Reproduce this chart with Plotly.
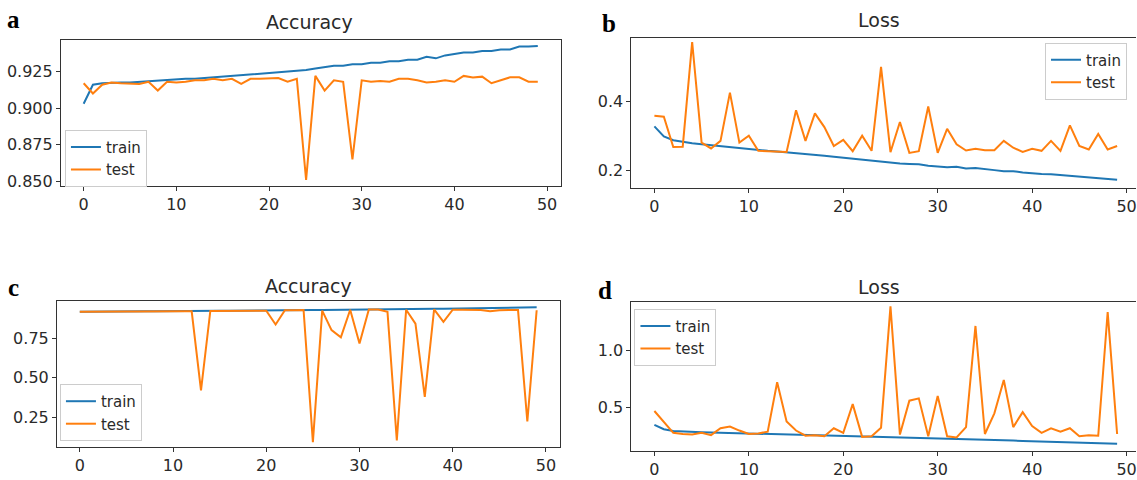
import plotly.graph_objects as go

W, H = 1137, 480

epochs = list(range(50))

acc_a_train = [0.903, 0.916, 0.917, 0.9175, 0.9175, 0.9175, 0.918, 0.9185, 0.919, 0.919,
               0.9195, 0.920, 0.920, 0.9205, 0.921, 0.9215, 0.922, 0.922, 0.923, 0.9235,
               0.924, 0.9245, 0.925, 0.9255, 0.926, 0.927, 0.928, 0.929, 0.929, 0.930,
               0.930, 0.931, 0.931, 0.932, 0.932, 0.933, 0.933, 0.935, 0.934, 0.936,
               0.937, 0.938, 0.938, 0.939, 0.939, 0.940, 0.940, 0.942, 0.942, 0.9425]
acc_a_test = [0.917, 0.910, 0.916, 0.9175, 0.917, 0.9165, 0.9165, 0.918, 0.912, 0.918,
              0.9175, 0.918, 0.919, 0.919, 0.920, 0.919, 0.920, 0.9165, 0.920, 0.920,
              0.920, 0.9205, 0.918, 0.920, 0.851, 0.922, 0.912, 0.919, 0.918, 0.865,
              0.919, 0.918, 0.9185, 0.918, 0.920, 0.920, 0.919, 0.9175, 0.918, 0.919,
              0.918, 0.922, 0.921, 0.9215, 0.917, 0.919, 0.921, 0.921, 0.918, 0.918]

loss_b_train = [0.327, 0.298, 0.287, 0.282, 0.278, 0.275, 0.272, 0.270, 0.266, 0.264,
                0.261, 0.258, 0.256, 0.254, 0.252, 0.249, 0.247, 0.245, 0.242, 0.239,
                0.236, 0.233, 0.230, 0.228, 0.225, 0.221, 0.219, 0.218, 0.217, 0.213,
                0.210, 0.208, 0.210, 0.205, 0.206, 0.202, 0.200, 0.197, 0.197, 0.193,
                0.190, 0.189, 0.188, 0.186, 0.183, 0.181, 0.180, 0.177, 0.175, 0.172]
loss_b_test = [0.358, 0.355, 0.267, 0.268, 0.572, 0.280, 0.263, 0.285, 0.425, 0.280,
               0.300, 0.256, 0.255, 0.255, 0.253, 0.374, 0.285, 0.365, 0.325, 0.270,
               0.288, 0.255, 0.300, 0.256, 0.500, 0.252, 0.340, 0.250, 0.255, 0.385,
               0.250, 0.320, 0.275, 0.257, 0.262, 0.258, 0.258, 0.285, 0.265, 0.253,
               0.262, 0.256, 0.285, 0.256, 0.330, 0.270, 0.260, 0.305, 0.260, 0.270]

acc_c_train = [0.915, 0.916, 0.917, 0.917, 0.917, 0.918, 0.918, 0.918, 0.918, 0.919,
               0.919, 0.919, 0.919, 0.920, 0.920, 0.921, 0.921, 0.922, 0.922, 0.923,
               0.923, 0.924, 0.924, 0.925, 0.925, 0.926, 0.926, 0.927, 0.927, 0.928,
               0.928, 0.929, 0.930, 0.930, 0.931, 0.932, 0.932, 0.933, 0.934, 0.934,
               0.935, 0.936, 0.937, 0.938, 0.939, 0.940, 0.941, 0.942, 0.943, 0.944]
acc_c_test = [0.916, 0.917, 0.917, 0.917, 0.917, 0.917, 0.917, 0.918, 0.918, 0.918,
              0.918, 0.918, 0.918, 0.420, 0.920, 0.921, 0.920, 0.922, 0.923, 0.923,
              0.922, 0.835, 0.925, 0.925, 0.926, 0.095, 0.922, 0.800, 0.755, 0.928,
              0.715, 0.930, 0.930, 0.915, 0.105, 0.928, 0.840, 0.380, 0.930, 0.852,
              0.928, 0.928, 0.928, 0.926, 0.918, 0.925, 0.926, 0.926, 0.225, 0.925]

loss_d_train = [0.350, 0.312, 0.296, 0.291, 0.288, 0.285, 0.283, 0.281, 0.279, 0.277,
                0.275, 0.273, 0.270, 0.268, 0.265, 0.263, 0.261, 0.258, 0.256, 0.253,
                0.251, 0.249, 0.247, 0.245, 0.243, 0.241, 0.239, 0.237, 0.235, 0.233,
                0.231, 0.229, 0.226, 0.224, 0.222, 0.219, 0.217, 0.215, 0.213, 0.210,
                0.207, 0.205, 0.203, 0.200, 0.198, 0.196, 0.194, 0.192, 0.189, 0.186]
loss_d_test = [0.47, 0.37, 0.28, 0.27, 0.265, 0.28, 0.26, 0.32, 0.335, 0.30,
               0.27, 0.275, 0.29, 0.72, 0.38, 0.30, 0.255, 0.26, 0.25, 0.32,
               0.28, 0.53, 0.245, 0.25, 0.325, 1.38, 0.265, 0.56, 0.58, 0.25,
               0.60, 0.25, 0.24, 0.33, 1.21, 0.27, 0.45, 0.74, 0.33, 0.46,
               0.34, 0.28, 0.32, 0.29, 0.32, 0.25, 0.26, 0.255, 1.33, 0.27]

x_ticks = [0, 10, 20, 30, 40, 50]
a_yticks = [0.850, 0.875, 0.900, 0.925]
b_yticks = [0.2, 0.4]
c_yticks = [0.25, 0.50, 0.75]
d_yticks = [0.5, 1.0]

BLUE = "#1f77b4"
ORANGE = "#ff7f0e"
AX = "#333333"
TXT = "#2a2a2a"
FONT = "DejaVu Sans"
TICK_SIZE = 16
LEG_SIZE = 15


def px_x(p):
    return p / W


def px_y(p):
    return 1 - p / H


fig = go.Figure()

panels = [
    ("", acc_a_train, acc_a_test, "legend"),
    ("2", loss_b_train, loss_b_test, "legend2"),
    ("3", acc_c_train, acc_c_test, "legend3"),
    ("4", loss_d_train, loss_d_test, "legend4"),
]
for suf, tr, te, lg in panels:
    fig.add_trace(go.Scatter(x=epochs, y=tr, mode="lines", name="train",
                             line=dict(color=BLUE, width=2),
                             xaxis="x" + suf, yaxis="y" + suf, legend=lg))
    fig.add_trace(go.Scatter(x=epochs, y=te, mode="lines", name="test",
                             line=dict(color=ORANGE, width=2),
                             xaxis="x" + suf, yaxis="y" + suf, legend=lg))


def xax(domain, rng, anchor, mirror):
    return dict(domain=domain, range=rng, anchor=anchor, tickvals=x_ticks,
                showline=True, linecolor=AX, linewidth=1, mirror=mirror,
                ticks="outside", ticklen=4, tickcolor=AX, showgrid=False,
                zeroline=False, ticklabeloverflow="allow",
                tickfont=dict(family=FONT, size=TICK_SIZE, color=TXT))


def yax(domain, rng, anchor, ticks, fmt, mirror):
    return dict(domain=domain, range=rng, anchor=anchor, tickvals=ticks,
                tickformat=fmt, showline=True, linecolor=AX, linewidth=1,
                mirror=mirror, ticks="outside", ticklen=4, tickcolor=AX,
                showgrid=False, zeroline=False,
                tickfont=dict(family=FONT, size=TICK_SIZE, color=TXT))


leg_common = dict(bgcolor="rgba(255,255,255,0.8)", bordercolor="#cccccc",
                  borderwidth=1, font=dict(family=FONT, size=LEG_SIZE, color=TXT),
                  xref="paper", yref="paper", itemwidth=30)

fig.update_layout(
    width=W, height=H, margin=dict(l=0, r=0, t=0, b=0),
    paper_bgcolor="white", plot_bgcolor="white",
    xaxis=xax([px_x(61), px_x(561)], [-2.45, 51.45], "y", True),
    yaxis=yax([px_y(188), px_y(40)], [0.8468, 0.9468], "x", a_yticks, ".3f", True),
    xaxis2=xax([px_x(632), 1.0], [-2.43, 51.0], "y2", True),
    yaxis2=yax([px_y(190), px_y(38)], [0.148, 0.585], "x2", b_yticks, ".1f", False),
    xaxis3=xax([px_x(57), px_x(560)], [-2.45, 51.45], "y3", True),
    yaxis3=yax([px_y(452), px_y(304)], [0.0625, 0.984], "x3", c_yticks, ".2f", True),
    xaxis4=xax([px_x(632), 1.0], [-2.43, 51.0], "y4", True),
    yaxis4=yax([px_y(456), px_y(305)], [0.12, 1.42], "x4", d_yticks, ".1f", False),
    legend=dict(x=px_x(65), y=px_y(131), xanchor="left", yanchor="top", **leg_common),
    legend2=dict(x=px_x(1128), y=px_y(43), xanchor="right", yanchor="top", **leg_common),
    legend3=dict(x=px_x(60), y=px_y(388), xanchor="left", yanchor="top", **leg_common),
    legend4=dict(x=px_x(635), y=px_y(312), xanchor="left", yanchor="top", **leg_common),
    showlegend=True,
)

titles = [("Accuracy", 310, 22), ("Loss", 880, 20), ("Accuracy", 309, 289), ("Loss", 880, 290)]
for txt, x, y in titles:
    fig.add_annotation(text=txt, x=px_x(x), y=px_y(y), xref="paper", yref="paper",
                       xanchor="center", yanchor="middle", showarrow=False,
                       font=dict(family=FONT, size=19, color=TXT))

letters = [("a", 14, 20), ("b", 610, 24), ("c", 14, 291), ("d", 606, 294)]
for txt, x, y in letters:
    fig.add_annotation(text="<b>" + txt + "</b>", x=px_x(x), y=px_y(y), xref="paper",
                       yref="paper", xanchor="center", yanchor="middle", showarrow=False,
                       font=dict(family="Liberation Serif", size=25, color="#000"))

fig.write_html("out.html")
